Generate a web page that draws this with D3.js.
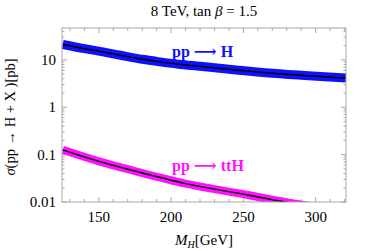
<!DOCTYPE html>
<html>
<head>
<meta charset="utf-8">
<script src="https://cdn.jsdelivr.net/npm/d3@7"></script>
<style>
  body { margin: 0; background: #fff; }
  svg text { font-family: "Liberation Serif", "DejaVu Serif", serif; }
</style>
</head>
<body>
<svg id="chart"></svg>
<script>
// masses (GeV) and cross sections (pb)
var massH = [125, 140, 150, 165, 180, 190, 205, 220, 245, 270, 295, 321];
var sigmaH = [21.1, 17.2, 15.3, 12.5, 10.3, 9.3, 8.1, 7.3, 6.1, 5.2, 4.6, 4.15];

var massTTH = [125, 150, 175, 210, 254, 278, 300, 321];
var sigmaTTH = [0.126, 0.072, 0.045, 0.0245, 0.0139, 0.0101, 0.0079, 0.0064];

var xTicks = [150, 200, 250, 300];
var yTicks = [0.01, 0.1, 1, 10];
var yTickLabels = ["0.01", "0.1", "1", "10"];

var width = 374, height = 251;
// plot box (don't call these top/left, window.top is read-only)
var pL = 62, pR = 346, pT = 28, pB = 202;

var svg = d3.select("#chart")
    .attr("width", width)
    .attr("height", height);

var x = d3.scaleLinear().domain([124.5, 321]).range([pL, pR]);
var y = d3.scaleLog().domain([0.01, 47]).range([pB, pT]);

// minor ticks
var xMinor = d3.range(130, 321, 10).filter(function(v) { return v % 50 != 0; });
var yMinor = [];
[0.01, 0.1, 1, 10].forEach(function(d) {
    for (var k = 2; k <= 9; k++) {
        if (d * k <= 47) yMinor.push(d * k);
    }
});

svg.append("defs").append("clipPath").attr("id", "clip")
    .append("rect")
    .attr("x", pL).attr("y", pT)
    .attr("width", pR - pL).attr("height", pB - pT);

var frameColor = "#a8a8a8";
var g = svg.append("g");

// x ticks, bottom and top
xTicks.forEach(function(v) {
    g.append("line").attr("x1", x(v)).attr("x2", x(v)).attr("y1", pB).attr("y2", pB - 5)
        .attr("stroke", frameColor);
    g.append("line").attr("x1", x(v)).attr("x2", x(v)).attr("y1", pT).attr("y2", pT + 5)
        .attr("stroke", frameColor);
    g.append("text").attr("x", x(v)).attr("y", 222)
        .attr("text-anchor", "middle").attr("font-size", "15px").text(v);
});
xMinor.forEach(function(v) {
    g.append("line").attr("x1", x(v)).attr("x2", x(v)).attr("y1", pB).attr("y2", pB - 3)
        .attr("stroke", frameColor);
    g.append("line").attr("x1", x(v)).attr("x2", x(v)).attr("y1", pT).attr("y2", pT + 3)
        .attr("stroke", frameColor);
});

// y ticks, left and right
yTicks.forEach(function(v, i) {
    g.append("line").attr("x1", pL).attr("x2", pL + 5).attr("y1", y(v)).attr("y2", y(v))
        .attr("stroke", frameColor);
    g.append("line").attr("x1", pR).attr("x2", pR - 5).attr("y1", y(v)).attr("y2", y(v))
        .attr("stroke", frameColor);
    g.append("text").attr("x", 56).attr("y", y(v) + 5)
        .attr("text-anchor", "end").attr("font-size", "15px").text(yTickLabels[i]);
});
yMinor.forEach(function(v) {
    g.append("line").attr("x1", pL).attr("x2", pL + 2.5).attr("y1", y(v)).attr("y2", y(v))
        .attr("stroke", frameColor);
    g.append("line").attr("x1", pR).attr("x2", pR - 2.5).attr("y1", y(v)).attr("y2", y(v))
        .attr("stroke", frameColor);
});

// curves
var line = d3.line()
    .x(function(d) { return x(d[0]); })
    .y(function(d) { return y(d[1]); })
    .curve(d3.curveMonotoneX);

var curves = svg.append("g").attr("clip-path", "url(#clip)");
var dataH = massH.map(function(m, i) { return [m, sigmaH[i]]; });
var dataTTH = massTTH.map(function(m, i) { return [m, sigmaTTH[i]]; });

curves.append("path").attr("d", line(dataH))
    .attr("fill", "none").attr("stroke", "#1010ff").attr("stroke-width", 9);
curves.append("path").attr("d", line(dataH))
    .attr("fill", "none").attr("stroke", "#000").attr("stroke-width", 1.4);
curves.append("path").attr("d", line(dataTTH))
    .attr("fill", "none").attr("stroke", "#ff10ff").attr("stroke-width", 8);
curves.append("path").attr("d", line(dataTTH))
    .attr("fill", "none").attr("stroke", "#000").attr("stroke-width", 1.4);

// frame
svg.append("rect")
    .attr("x", pL).attr("y", pT)
    .attr("width", pR - pL).attr("height", pB - pT)
    .attr("fill", "none").attr("stroke", frameColor);

// curve labels
svg.append("text").attr("x", 172).attr("y", 57)
    .attr("font-size", "16px").attr("font-weight", "bold").attr("fill", "#1010ff")
    .text("pp \u27F6 H");
svg.append("text").attr("x", 172).attr("y", 170.5)
    .attr("font-size", "16px").attr("font-weight", "bold").attr("fill", "#ff10ff")
    .text("pp \u27F6 ttH");

// title
var title = svg.append("text").attr("x", 204).attr("y", 16)
    .attr("text-anchor", "middle").attr("font-size", "15px");
title.append("tspan").text("8 TeV, tan ");
title.append("tspan").attr("font-style", "italic").text("\u03B2");
title.append("tspan").text(" = 1.5");

// x label
var xl = svg.append("text").attr("x", 204).attr("y", 245)
    .attr("text-anchor", "middle").attr("font-size", "15px");
xl.append("tspan").attr("font-style", "italic").text("M");
xl.append("tspan").attr("font-style", "italic").attr("font-size", "10px").attr("dy", 3).text("H");
xl.append("tspan").attr("dy", -3).text("[GeV]");

// y label
var yl = svg.append("text")
    .attr("transform", "translate(15," + ((pT + pB) / 2 + 2) + ") rotate(-90)")
    .attr("text-anchor", "middle").attr("font-size", "14.5px");
yl.append("tspan").attr("font-style", "italic").text("\u03C3");
yl.append("tspan").text("(pp \u2192 H + X )[pb]");
</script>
</body>
</html>
